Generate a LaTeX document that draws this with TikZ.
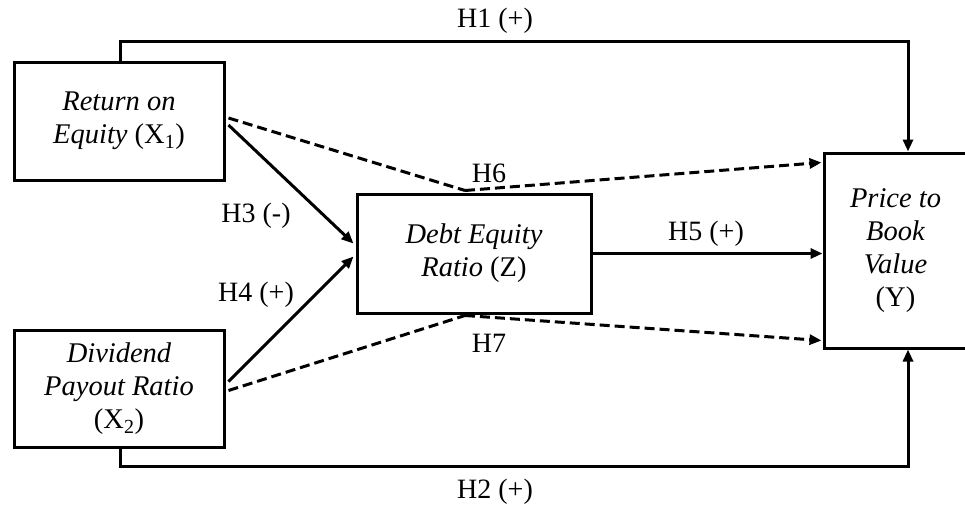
\documentclass[tikz,border=0pt]{standalone}
\usepackage{fontspec}
\setmainfont{Liberation Serif}
\usetikzlibrary{arrows.meta,positioning,calc}

\begin{document}
\begin{tikzpicture}[x=1pt, y=-1pt, font=\fontsize{28}{33}\selectfont, >={Triangle[length=12pt, width=10pt]}]
\tikzset{
  var/.style={draw, line width=3pt, align=center, inner sep=0pt, font=\fontsize{28.5}{33}\selectfont\itshape},
  path_h/.style={->, line width=3pt},
  path_med/.style={->, line width=3pt, dash pattern=on 10pt off 5pt},
  hyp/.style={inner sep=1pt},
}
\useasboundingbox (0,0) rectangle (965,506);

% Variables
\node (roe) [var, minimum width=210pt, minimum height=118pt] at (119,121) {Return on\\Equity {\upshape(X\textsubscript{1})}};
\node (dpr) [var, minimum width=210pt, minimum height=117pt] at (119,388.5) {Dividend\\Payout Ratio\\{\upshape(X\textsubscript{2})}};
\node (der) [var, minimum width=234pt, minimum height=119pt] at (474,253.5) {Debt Equity\\Ratio {\upshape(Z)}};
\node (pbv) [var, minimum width=143pt, minimum height=195pt] at (895.5,250.5) {Price to\\Book\\Value\\{\upshape(Y)}};

% Mediation points
\coordinate (h6pt) at ($(der.north)+(-9,-2)$);
\coordinate (h7pt) at ($(der.south)+(-9,1)$);

% Direct paths
\draw[path_h] (roe.north -| 120,0) -- ++(0,-19) -| (pbv.north -| 908,0);
\draw[path_h] (dpr.south -| 120,0) -- ++(0,18) -| (pbv.south -| 908,0);
\draw[path_h] ($(roe.east)+(3,4)$) -- ($(der.west)+(-2,-10)$);
\draw[path_h] ($(dpr.east)+(3,-7)$) -- ($(der.west)+(-2,3)$);
\draw[path_h] (der.east) -- (pbv.west |- der.east);

% Indirect paths
\draw[path_med, -] ($(roe.east)+(3,-3)$) -- (h6pt);
\draw[path_med] (h6pt) -- ($(pbv.west)+(-1,-88)$);
\draw[path_med, -] ($(dpr.east)+(3,2)$) -- (h7pt);
\draw[path_med] (h7pt) -- ($(pbv.west)+(-1,90)$);

% Hypotheses
\node (h1) [hyp] at (495,21) {H1 (+)};
\node (h2) [hyp] at (495,492) {H2 (+)};
\node (h3) [hyp] at (256,216) {H3 (-)};
\node (h4) [hyp] at (256,295) {H4 (+)};
\node (h5) [hyp] at (706,234) {H5 (+)};
\node (h6) [hyp] at (489,173) {H6};
\node (h7) [hyp] at (489,343) {H7};

\end{tikzpicture}
\end{document}
